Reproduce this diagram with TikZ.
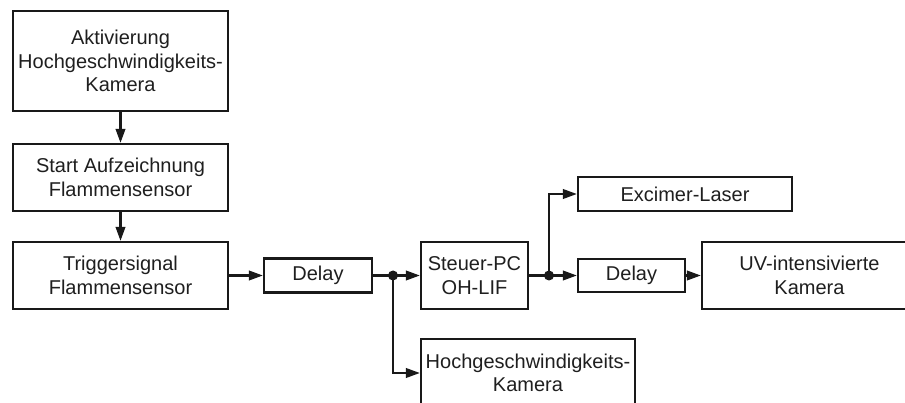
\documentclass[tikz,border=0pt]{standalone}
\usepackage{fontspec}
\setmainfont{Liberation Sans}
\usetikzlibrary{arrows.meta}
\begin{document}
\begin{tikzpicture}[x=1pt,y=-1pt,
  box/.style={draw=black!90, line width=2.2pt, inner sep=0pt, align=center,
    font=\fontsize{20}{23.5}\selectfont, text=black!88},
  conn/.style={line width=2.2pt, draw=black!90, -{Triangle[length=14pt,width=9.5pt]}},
  plain/.style={line width=2.2pt, draw=black!90},
  jdot/.style={circle, fill=black!90, inner sep=0pt, minimum size=10pt}]
\useasboundingbox (0,0) rectangle (905,403);
\clip (0,0) rectangle (905,403);
\fill[white] (0,0) rectangle (905,403);
\node[box, minimum width=215pt, minimum height=100pt] (A) at (120.5,61) {Aktivierung\\Hochgeschwindigkeits-\\Kamera};
\node[box, minimum width=215pt, minimum height=67pt] (B) at (120.5,177.5) {Start Aufzeichnung\\Flammensensor};
\node[box, minimum width=215pt, minimum height=67pt] (C) at (120.5,275.5) {Triggersignal\\Flammensensor};
\node[box, minimum width=108pt, minimum height=34pt] (D1) at (318,275.5) {Delay};
\node[box, minimum width=107pt, minimum height=67pt] (S) at (474.5,275.5) {Steuer-PC\\OH-LIF};
\node[box, minimum width=214pt, minimum height=34pt] (E) at (685,194) {Excimer-Laser};
\node[box, minimum width=107pt, minimum height=33pt] (D2) at (631.5,275.5) {Delay};
\node[box, minimum width=215pt, minimum height=67pt] (U) at (809.5,275.5) {UV-intensivierte\\Kamera};
\node[box, minimum width=214pt, minimum height=68pt] (H) at (528,373) {Hochgeschwindigkeits-\\Kamera};
\node[jdot] (J1) at (393,275.5) {};
\node[jdot] (J2) at (549,275.5) {};
\draw[conn] (A) -- (B);
\draw[conn] (B) -- (C);
\draw[conn] (C) -- (D1);
\draw[plain] (D1.east) -- (J1.center);
\draw[conn] (J1.center) -- (S.west);
\draw[conn] (J1.center) |- (H.west);
\draw[plain] (S.east) -- (J2.center);
\draw[conn] (J2.center) -- (D2.west);
\draw[conn] (J2.center) |- (E.west);
\draw[conn] (D2) -- (U);
\end{tikzpicture}
\end{document}
